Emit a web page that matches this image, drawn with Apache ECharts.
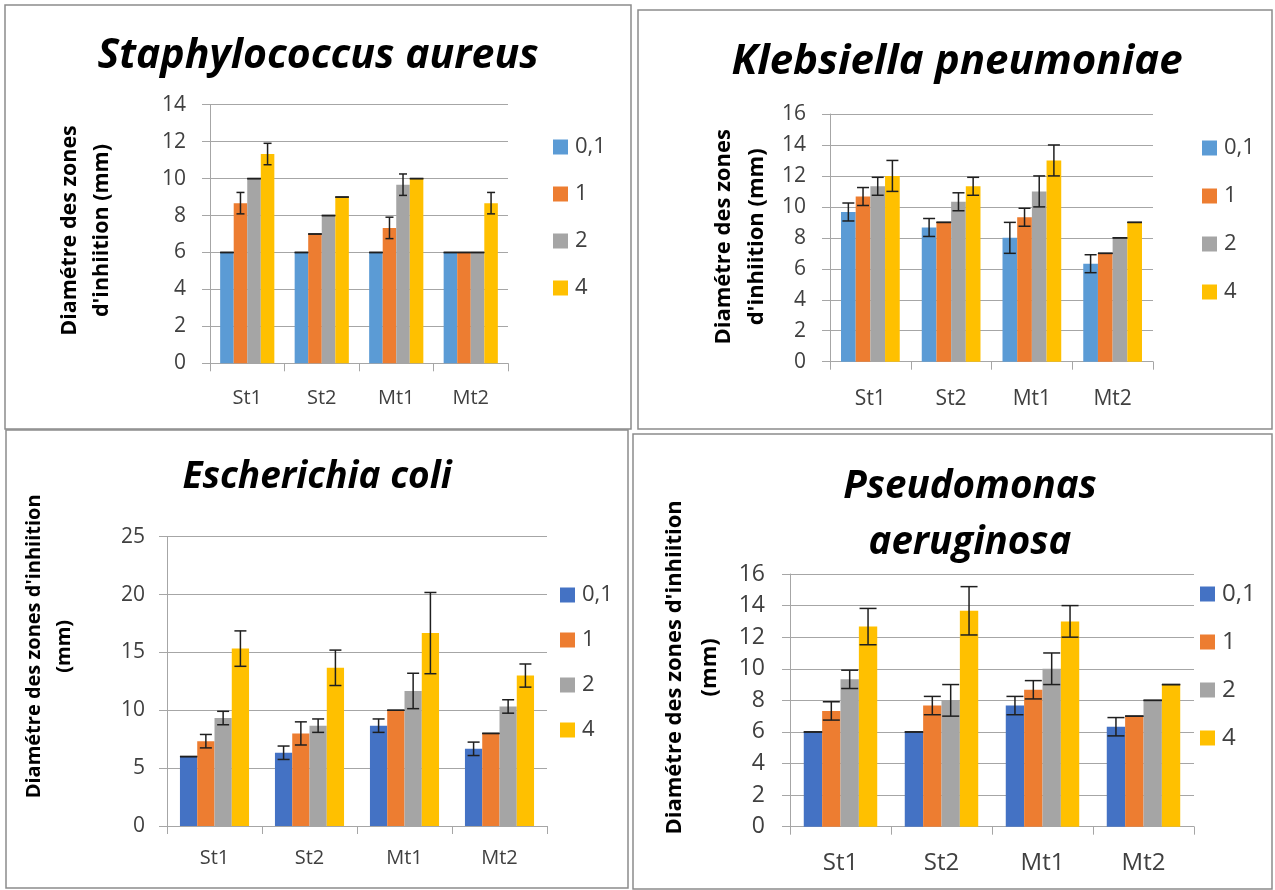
<!DOCTYPE html>
<html>
<head>
<meta charset="utf-8">
<script src="https://cdn.jsdelivr.net/npm/echarts@6/dist/echarts.min.js"></script>
<style>
  html, body { margin: 0; padding: 0; background: #ffffff; }
  #chart { width: 1275px; height: 890px; }
</style>
</head>
<body>
<div id="chart"></div>
<script>
// Extracts tested and the concentrations (legend entries)
const categories = ['St1', 'St2', 'Mt1', 'Mt2'];
const doses = ['0,1', '1', '2', '4'];

// Inhibition zone diameters (mm): one row per concentration, one column per extract
const staphMean = [[6, 6, 6, 6], [8.67, 7, 7.33, 6], [10, 8, 9.67, 6], [11.33, 9, 10, 8.67]];
const staphSd   = [[0, 0, 0, 0], [0.58, 0, 0.58, 0], [0, 0, 0.58, 0], [0.58, 0, 0, 0.58]];

const klebMean = [[9.67, 8.67, 8, 6.33], [10.67, 9, 9.33, 7], [11.33, 10.33, 11, 8], [12, 11.33, 13, 9]];
const klebSd   = [[0.58, 0.58, 1, 0.58], [0.58, 0, 0.58, 0], [0.58, 0.58, 1, 0], [1, 0.58, 1, 0]];

const coliMean = [[6, 6.33, 8.67, 6.67], [7.33, 8, 10, 8], [9.33, 8.67, 11.67, 10.33], [15.33, 13.67, 16.67, 13]];
const coliSd   = [[0, 0.58, 0.58, 0.58], [0.58, 1, 0, 0], [0.58, 0.58, 1.53, 0.58], [1.53, 1.53, 3.51, 1]];

const pseudoMean = [[6, 6, 7.67, 6.33], [7.33, 7.67, 8.67, 7], [9.33, 8, 10, 8], [12.67, 13.67, 13, 9]];
const pseudoSd   = [[0, 0, 0.58, 0.58], [0.58, 0.58, 0.58, 0], [0.58, 1, 1, 0], [1.15, 1.53, 1, 0]];

// Axis ranges per panel
const staphTicks  = { max: 14, step: 2 };
const klebTicks   = { max: 16, step: 2 };
const coliTicks   = { max: 25, step: 5 };
const pseudoTicks = { max: 16, step: 2 };

const paletteLight = ['#5B9BD5', '#ED7D31', '#A5A5A5', '#FFC000'];
const paletteDark  = ['#4472C4', '#ED7D31', '#A5A5A5', '#FFC000'];

const LABEL_FONT = '"Open Sans", "Noto Sans", sans-serif';
const GRID_COLOR = '#A6A6A6';
const TEXT_COLOR = '#404040';

const panels = [
  {
    mean: staphMean, sd: staphSd, ticks: staphTicks, palette: paletteLight,
    box: [5, 5, 626, 424],
    titles: [{ text: 'Staphylococcus aureus', x: 318, y: 56, size: 41 }],
    grid: { left: 210, top: 104.7, width: 298, height: 258.6 },
    tickFont: 21, catFont: 20, yMargin: 24, xMargin: 25,
    yName: 'Diamétre des zones\nd\'inhiition (mm)', nameFont: 21.5, nameLH: 32, nameGap: 92, namePad: 7,
    legend: { left: 548, top: 131, gap: 25, font: 22 }, cap: 8
  },
  {
    mean: klebMean, sd: klebSd, ticks: klebTicks, palette: paletteLight,
    box: [638, 10, 634, 419],
    titles: [{ text: 'Klebsiella pneumoniae', x: 957, y: 62, size: 42 }],
    grid: { left: 830, top: 114, width: 323, height: 247.7 },
    tickFont: 21, catFont: 21, yMargin: 24, xMargin: 27,
    yName: 'Diamétre des zones\nd\'inhiition (mm)', nameFont: 22, nameLH: 33, nameGap: 57, namePad: 2,
    legend: { left: 1197, top: 132, gap: 26, font: 22 }, cap: 12
  },
  {
    mean: coliMean, sd: coliSd, ticks: coliTicks, palette: paletteDark,
    box: [6, 430, 622, 458],
    titles: [{ text: 'Escherichia coli', x: 317, y: 477, size: 37 }],
    grid: { left: 167, top: 536.7, width: 380, height: 289.3 },
    tickFont: 21, catFont: 20, yMargin: 22, xMargin: 22,
    yName: 'Diamétre des zones d\'inhiition\n(mm)', nameFont: 20, nameLH: 30, nameGap: 88, namePad: 70,
    legend: { left: 555, top: 579, gap: 23, font: 22 }, cap: 12
  },
  {
    mean: pseudoMean, sd: pseudoSd, ticks: pseudoTicks, palette: paletteDark,
    box: [633, 434, 639, 455],
    titles: [
      { text: 'Pseudomonas', x: 970, y: 487, size: 38.5 },
      { text: 'aeruginosa', x: 970, y: 543, size: 38.5 }
    ],
    grid: { left: 790, top: 574, width: 404, height: 252.7 },
    tickFont: 23, catFont: 24, yMargin: 25, xMargin: 24,
    yName: 'Diamétre des zones d\'inhiition\n(mm)', nameFont: 22, nameLH: 35, nameGap: 63, namePad: 66,
    legend: { left: 1195, top: 577, gap: 24, font: 24 }, cap: 17
  }
];

// Error bars drawn next to each bar of a group (4 bars, Excel-like 150% gap width)
function errorBars(doseIdx, capW) {
  return function (params, api) {
    const cat = api.value(0);
    const mean = api.value(1);
    const sd = api.value(2);
    const band = api.size([1, 0])[0];
    const barW = band / 5.5;
    const hi = api.coord([cat, mean + sd]);
    const lo = api.coord([cat, mean - sd]);
    const x = hi[0] + (doseIdx - 1.5) * barW;
    const w = sd === 0 ? barW : capW;
    const style = { stroke: '#1f1f1f', lineWidth: 1.5 };
    return {
      type: 'group',
      children: [
        { type: 'line', shape: { x1: x, y1: hi[1], x2: x, y2: lo[1] }, style: style },
        { type: 'line', shape: { x1: x - w / 2, y1: hi[1], x2: x + w / 2, y2: hi[1] }, style: style },
        { type: 'line', shape: { x1: x - w / 2, y1: lo[1], x2: x + w / 2, y2: lo[1] }, style: style }
      ]
    };
  };
}

const grids = [], xAxes = [], yAxes = [], series = [], legends = [], graphics = [];

panels.forEach(function (p, pi) {
  graphics.push({
    type: 'rect', silent: true, z: -1,
    shape: { x: p.box[0], y: p.box[1], width: p.box[2], height: p.box[3] },
    style: { fill: 'none', stroke: '#8c8c8c', lineWidth: 1.5 }
  });
  p.titles.forEach(function (t) {
    graphics.push({
      type: 'text', x: t.x, y: t.y, silent: true,
      style: {
        text: t.text, align: 'center', verticalAlign: 'middle', fill: '#000000',
        fontFamily: '"Open Sans", sans-serif', fontStyle: 'italic', fontWeight: 'bold', fontSize: t.size
      }
    });
  });

  grids.push({
    left: p.grid.left, top: p.grid.top, width: p.grid.width, height: p.grid.height,
    containLabel: false, outerBoundsMode: 'none'
  });

  xAxes.push({
    type: 'category', gridIndex: pi, data: categories,
    axisLine: { show: true, lineStyle: { color: GRID_COLOR, width: 1 } },
    axisTick: { show: true, length: 8, lineStyle: { color: GRID_COLOR } },
    axisLabel: { fontSize: p.catFont, color: TEXT_COLOR, fontFamily: LABEL_FONT, margin: p.xMargin }
  });

  yAxes.push({
    type: 'value', gridIndex: pi, min: 0, max: p.ticks.max, interval: p.ticks.step,
    axisLine: { show: true, lineStyle: { color: GRID_COLOR, width: 1 } },
    axisTick: { show: true, length: 8, lineStyle: { color: GRID_COLOR } },
    splitLine: { show: true, lineStyle: { color: GRID_COLOR, width: 1 } },
    axisLabel: { fontSize: p.tickFont, color: TEXT_COLOR, fontFamily: LABEL_FONT, margin: p.yMargin },
    name: p.yName, nameLocation: 'middle', nameRotate: 90, nameGap: p.nameGap,
    nameTextStyle: {
      fontSize: p.nameFont, fontWeight: 'bold', color: '#000000', fontFamily: LABEL_FONT,
      lineHeight: p.nameLH, padding: [0, 0, 0, p.namePad]
    }
  });

  doses.forEach(function (d, di) {
    series.push({
      type: 'bar', name: d, xAxisIndex: pi, yAxisIndex: pi,
      data: p.mean[di], barGap: '0%', barCategoryGap: '27.27%',
      itemStyle: { color: p.palette[di] }, silent: true
    });
  });
  doses.forEach(function (d, di) {
    series.push({
      type: 'custom', name: 'sd-' + pi + '-' + di, xAxisIndex: pi, yAxisIndex: pi, z: 5, silent: true,
      renderItem: errorBars(di, p.cap),
      encode: { x: 0, y: 1 },
      data: categories.map(function (c, ci) { return [ci, p.mean[di][ci], p.sd[di][ci]]; })
    });
  });

  legends.push({
    orient: 'vertical', left: p.legend.left, top: p.legend.top, itemGap: p.legend.gap,
    itemWidth: 15, itemHeight: 15, icon: 'rect', selectedMode: false,
    textStyle: { fontSize: p.legend.font, color: TEXT_COLOR, fontFamily: LABEL_FONT, padding: [0, 0, 0, 2] },
    data: doses.map(function (d, di) { return { name: d, itemStyle: { color: p.palette[di] } }; })
  });
});

const chart = echarts.init(document.getElementById('chart'), null, { renderer: 'canvas' });
chart.setOption({
  backgroundColor: '#ffffff',
  animation: false,
  grid: grids,
  xAxis: xAxes,
  yAxis: yAxes,
  legend: legends,
  series: series,
  graphic: graphics
});
</script>
</body>
</html>
